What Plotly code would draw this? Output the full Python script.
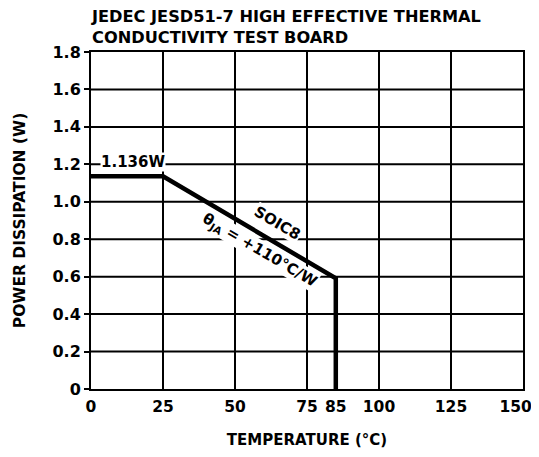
import plotly.graph_objects as go

temps = [0, 25, 85, 85]
power = [1.136, 1.136, 0.591, 0]
x_ticks = [0, 25, 50, 75, 85, 100, 125, 150]
y_ticks = [0, 0.2, 0.4, 0.6, 0.8, 1.0, 1.2, 1.4, 1.6, 1.8]
y_labels = ["0", "0.2", "0.4", "0.6", "0.8", "1.0", "1.2", "1.4", "1.6", "1.8"]
grid_x = [25, 50, 75, 100, 125]
grid_y = [0.2, 0.4, 0.6, 0.8, 1.0, 1.2, 1.4, 1.6]

F = "DejaVu Sans, sans-serif"

fig = go.Figure()

for gx in grid_x:
    fig.add_shape(type="line", x0=gx, x1=gx, y0=0, y1=1.8, xref="x", yref="y",
                  line=dict(color="black", width=2), layer="below")
for gy in grid_y:
    fig.add_shape(type="line", x0=0, x1=150, y0=gy, y1=gy, xref="x", yref="y",
                  line=dict(color="black", width=2), layer="below")

fig.add_trace(go.Scatter(x=temps, y=power, mode="lines",
                         line=dict(color="black", width=4.5), hoverinfo="skip",
                         showlegend=False, cliponaxis=False))

bold = dict(family=F, size=15, color="black")
fig.add_annotation(x=14.6, y=1.21, text="<b>1.136W</b>", showarrow=False,
                   font=bold, bgcolor="white", borderpad=0)
fig.add_annotation(x=64.6, y=0.887, text="<b>SOIC8</b>", showarrow=False,
                   font=bold, bgcolor="white", textangle=30.5, borderpad=0)
fig.add_annotation(x=58.7, y=0.742, text="<b>θ<sub>JA</sub> = +110°C/W</b>", showarrow=False,
                   font=bold, bgcolor="white", textangle=30.5, borderpad=0)

# title as annotation
fig.add_annotation(x=0, y=1, xref="paper", yref="paper", xanchor="left", yanchor="bottom",
                   yshift=3, xshift=-2, align="left", showarrow=False,
                   text="<b>JEDEC JESD51-7 HIGH EFFECTIVE THERMAL<br>CONDUCTIVITY TEST BOARD</b>",
                   font=dict(family=F, size=16.2, color="black"))

x_text = ["<b>%d</b>" % v for v in x_ticks]
x_text[-1] = x_text[-1] + "&nbsp;&nbsp;&nbsp;"  # keep the last label inside the visible page

# page body has an 8px margin; size figure so the plot lands where the reference has it
fig.update_layout(
    width=531, height=441,
    margin=dict(l=83, r=16, t=44, b=60, autoexpand=False),
    paper_bgcolor="white", plot_bgcolor="white",
    font=dict(family=F, size=16, color="black"),
)
fig.update_xaxes(range=[0, 150], tickvals=x_ticks, ticktext=x_text,
                 showgrid=False, zeroline=False, showline=True, linecolor="black",
                 linewidth=2, mirror=True, ticks="", automargin=False, ticklabelstandoff=2,
                 ticklabeloverflow="allow",
                 tickfont=dict(family=F, size=15.5, color="black"),
                 title=dict(text="<b>TEMPERATURE (°C)</b>", standoff=23,
                            font=dict(family=F, size=15, color="black")))
fig.update_yaxes(range=[0, 1.8], tickvals=y_ticks, ticktext=["<b>%s</b>" % t for t in y_labels],
                 showgrid=False, zeroline=False, showline=True, linecolor="black",
                 linewidth=2, mirror=True, ticks="outside", ticklen=5, tickwidth=2,
                 tickcolor="black", automargin=False,
                 tickfont=dict(family=F, size=16, color="black"),
                 title=dict(text="<b>POWER DISSIPATION (W)</b>", standoff=23,
                            font=dict(family=F, size=15.5, color="black")))

fig.write_html("out.html")
